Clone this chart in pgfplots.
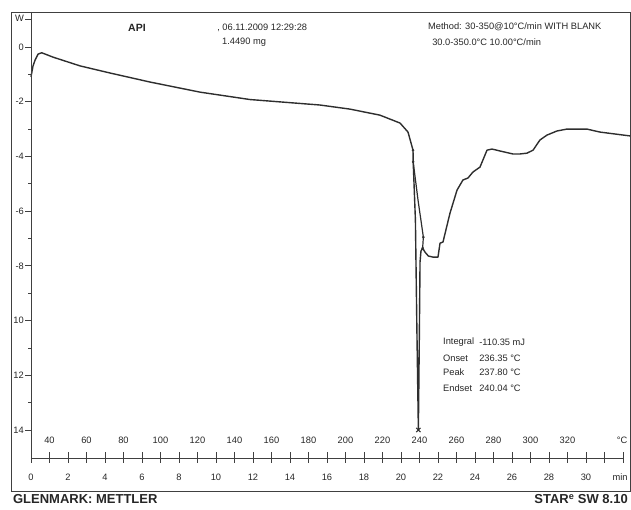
\documentclass[border=0pt]{standalone}
\usepackage{pgfplots}
\pgfplotsset{compat=1.18}
\usepackage{fontspec}
\setmainfont{Liberation Sans}
\definecolor{ink}{HTML}{2E2E2E}
\begin{document}
\begin{tikzpicture}
\begin{axis}[
  name=main,
  scale only axis, width=619pt, height=479pt,
  xmin=19.19, xmax=353.8, ymin=-16.23, ymax=1.28,
  axis line style={color=black!75, line width=0.9pt},
  xtick=\empty, ytick=\empty,
  clip=false,
]
% main DSC curve (x: temperature in degC, y: heat flow)
\addplot[ink, line width=1.4pt, line join=round] coordinates {
(30,-1.09) (31.1,-0.69) (32.2,-0.48) (33.8,-0.26) (35.8,-0.21) (41.9,-0.37)
(56.5,-0.69) (72.7,-0.95) (94.3,-1.28) (121.4,-1.65) (148.4,-1.92) (186.2,-2.12)
(202.4,-2.27) (218.6,-2.49) (229.5,-2.78) (233.8,-3.11) (236.5,-3.77) (236.6,-4.20)
(237.8,-6.33) (238.6,-10.35) (239.4,-14.0) (239.9,-10.71) (240.3,-7.86) (240.8,-7.46)
(241.7,-7.35) (243.0,-7.50) (244.8,-7.64) (247.3,-7.68) (250.0,-7.68) (251.1,-7.17)
(252.7,-7.13) (256.5,-6.07) (260.3,-5.23) (263.5,-4.86) (266.2,-4.79) (268.9,-4.57)
(272.7,-4.39) (274.3,-4.13) (276.5,-3.77) (279.2,-3.73) (283.5,-3.80) (290.5,-3.91)
(294.3,-3.91) (298.1,-3.88) (301.4,-3.77) (305.1,-3.40) (308.9,-3.22) (314.3,-3.07)
(319.7,-3.00) (330.5,-3.00) (337.6,-3.11) (353.8,-3.25)
};
% second trace across the peak
\addplot[ink, line width=1.2pt] coordinates {
(236.6,-4.20) (239.2,-5.59) (242.1,-6.95) (241.7,-7.35)
};
% evaluation points
\addplot[ink, only marks, mark=*, mark size=1.1pt] coordinates {
(236.5,-3.77) (236.6,-4.20) (242.1,-6.95) (241.7,-7.35)
};
\addplot[ink, only marks, mark=x, mark size=3pt, mark options={line width=0.9pt}] coordinates {
(239.4,-14.0)
};
% y axis line
\draw[black!75, line width=0.9pt] (axis cs:30,1.28) -- (axis cs:30,-15.03);
% y ticks
\pgfplotsinvokeforeach{1,0,-2,-4,-6,-8,-10,-12,-14}{
  \draw[black!75, line width=0.8pt] (axis cs:30,#1) -- ++(-5.5pt,0pt);
}
\pgfplotsinvokeforeach{-1,-3,-5,-7,-9,-11,-13}{
  \draw[black!75, line width=0.8pt] (axis cs:30,#1) -- ++(-3pt,0pt);
}
\begin{scope}[every node/.style={font=\fontsize{9.3}{10}\selectfont, text=black!85, anchor=east, inner sep=0pt}]
\node at ([xshift=-7pt]axis cs:30,1.06) {W};
\node at ([xshift=-7pt]axis cs:30,0) {0};
\node at ([xshift=-7pt]axis cs:30,-2) {-2};
\node at ([xshift=-7pt]axis cs:30,-4) {-4};
\node at ([xshift=-7pt]axis cs:30,-6) {-6};
\node at ([xshift=-7pt]axis cs:30,-8) {-8};
\node at ([xshift=-7pt]axis cs:30,-10) {10};
\node at ([xshift=-7pt]axis cs:30,-12) {12};
\node at ([xshift=-7pt]axis cs:30,-14) {14};
\end{scope}
% time / temperature axis
\draw[black!75, line width=0.9pt] (axis cs:30,-15.03) -- (axis cs:350,-15.03);
\pgfplotsinvokeforeach{30,40,...,350}{
  \draw[black!75, line width=0.8pt] ([yshift=6pt]axis cs:#1,-15.03) -- ([yshift=-5pt]axis cs:#1,-15.03);
}
\begin{scope}[every node/.style={font=\fontsize{9.3}{10}\selectfont, text=black!85, inner sep=0pt}]
\pgfplotsinvokeforeach{40,60,...,320}{
  \node at (axis cs:#1,-14.37) {#1};
}
\node at (axis cs:349.5,-14.37) {°C};
\node at (axis cs:30,-15.72) {0};
\node at (axis cs:50,-15.72) {2};
\node at (axis cs:70,-15.72) {4};
\node at (axis cs:90,-15.72) {6};
\node at (axis cs:110,-15.72) {8};
\node at (axis cs:130,-15.72) {10};
\node at (axis cs:150,-15.72) {12};
\node at (axis cs:170,-15.72) {14};
\node at (axis cs:190,-15.72) {16};
\node at (axis cs:210,-15.72) {18};
\node at (axis cs:230,-15.72) {20};
\node at (axis cs:250,-15.72) {22};
\node at (axis cs:270,-15.72) {24};
\node at (axis cs:290,-15.72) {26};
\node at (axis cs:310,-15.72) {28};
\node at (axis cs:330,-15.72) {30};
\node at (axis cs:348.4,-15.72) {min};
\end{scope}
% header texts
\node[font=\fontsize{10.5}{12}\selectfont\bfseries, text=black!85] at (axis cs:87.3,0.69) {API};
\begin{scope}[every node/.style={font=\fontsize{9.3}{10}\selectfont, text=black!85, anchor=west, inner sep=0pt}]
\node at (axis cs:130.6,0.69) {, 06.11.2009 12:29:28};
\node at (axis cs:133.2,0.18) {1.4490 mg};
\node at (axis cs:244.6,0.73) {Method: 30-350@10°C/min WITH BLANK};
\node at (axis cs:246.8,0.18) {30.0-350.0°C 10.00°C/min};
\node at (axis cs:252.7,-10.79) {Integral};
\node at (axis cs:252.7,-11.37) {Onset};
\node at (axis cs:252.7,-11.89) {Peak};
\node at (axis cs:252.7,-12.47) {Endset};
\node at (axis cs:272.2,-10.79) {-110.35 mJ};
\node at (axis cs:272.2,-11.37) {236.35 °C};
\node at (axis cs:272.2,-11.89) {237.80 °C};
\node at (axis cs:272.2,-12.47) {240.04 °C};
\end{scope}
\node[font=\fontsize{13}{15}\selectfont\bfseries, text=black!85, anchor=north west, inner sep=0pt] at ([yshift=-3pt]rel axis cs:0.003,0) {GLENMARK: METTLER};
\node[font=\fontsize{13}{15}\selectfont\bfseries, text=black!85, anchor=north east, inner sep=0pt] at ([yshift=-3pt,xshift=-2pt]rel axis cs:1,0) {STAR\textsuperscript{e} SW 8.10};
\end{axis}
\pgfresetboundingbox
\path ([xshift=-11pt,yshift=-18pt]main.south west) rectangle ++(631pt,509pt);
\end{tikzpicture}
\end{document}
